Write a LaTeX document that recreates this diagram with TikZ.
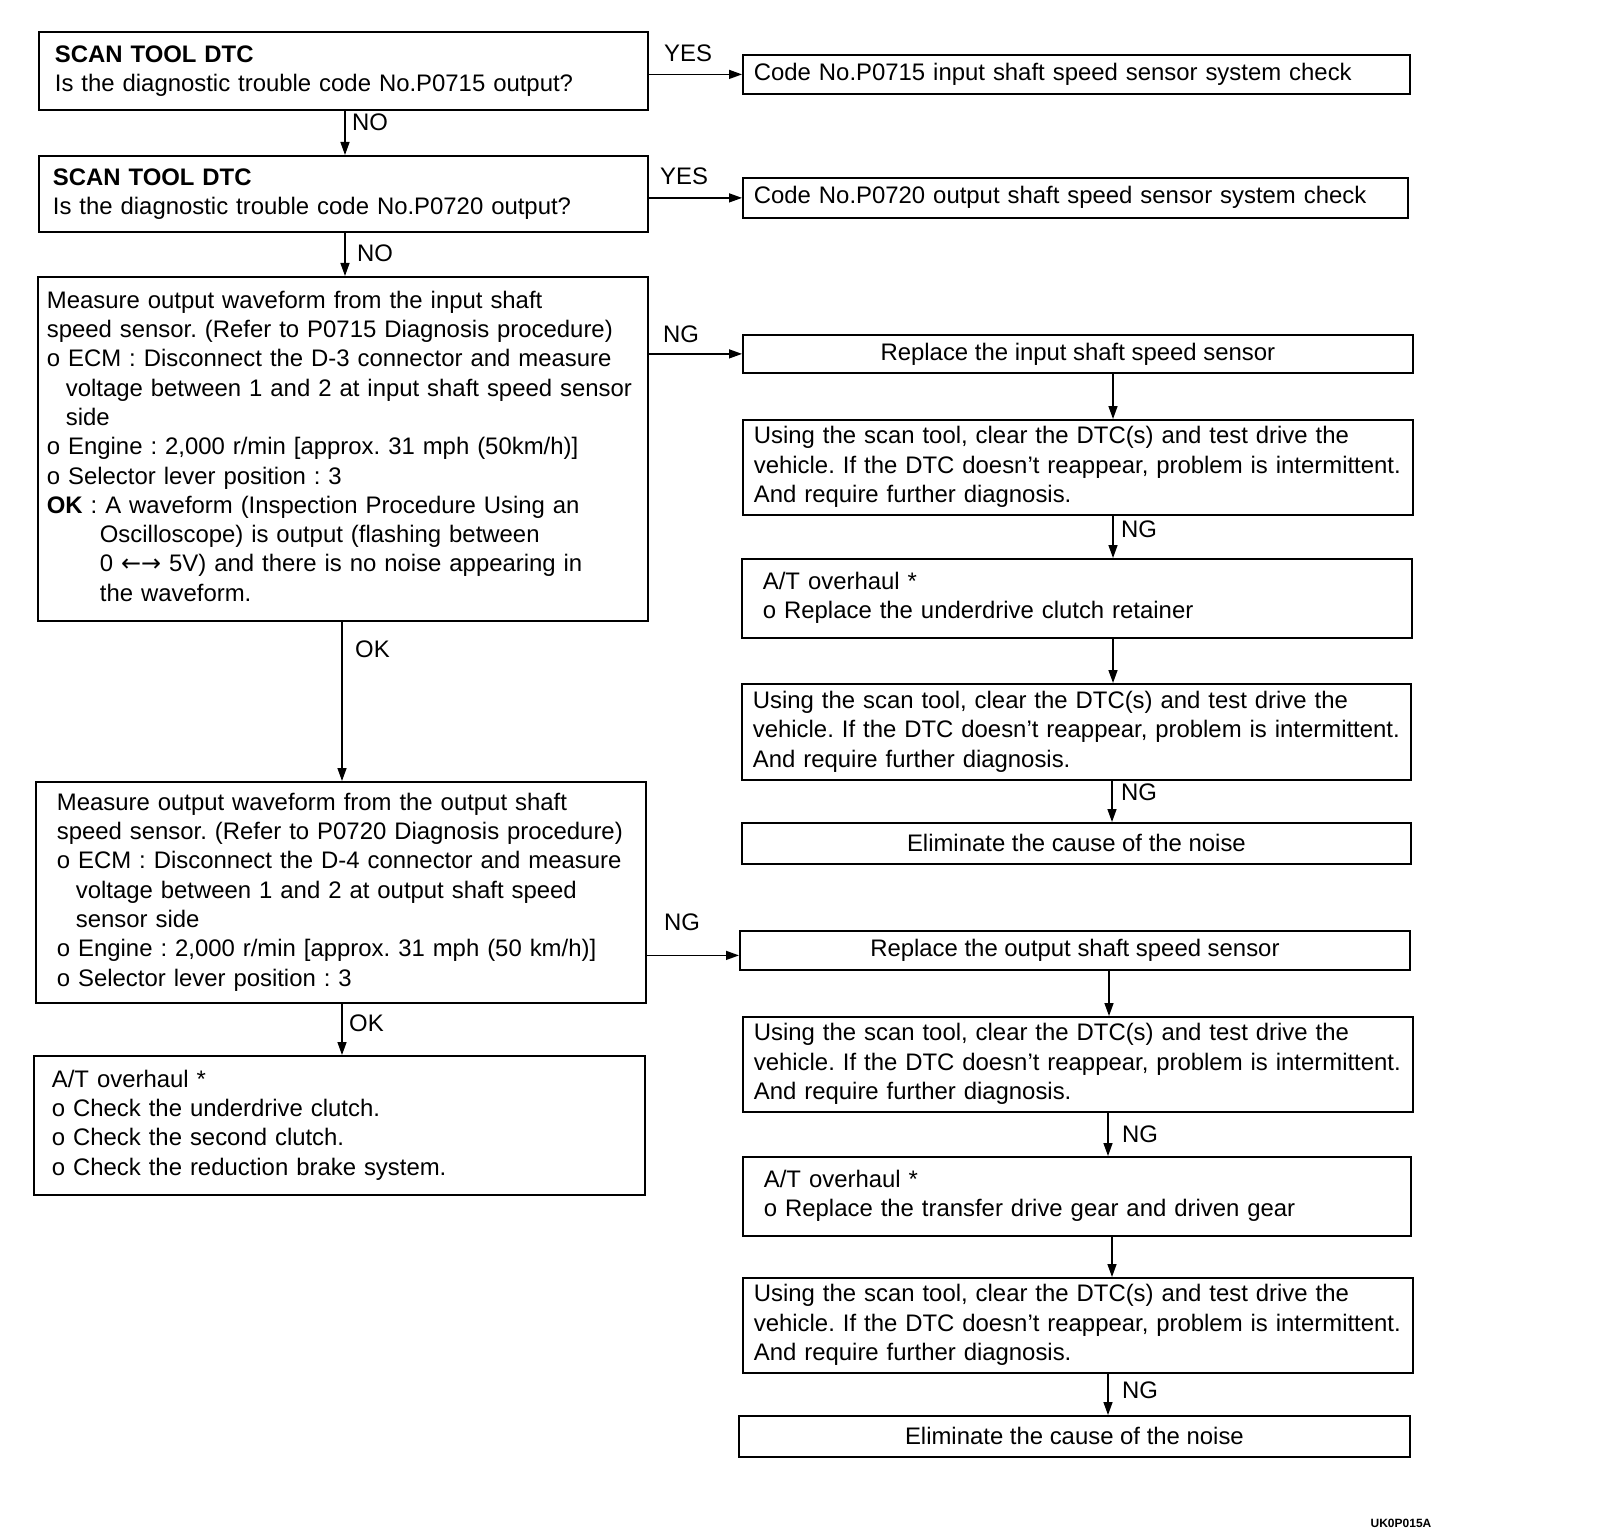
\documentclass[tikz,border=0pt]{standalone}
\usepackage{fontspec}
\setmainfont{Liberation Sans}
\newfontfamily\dejavu{DejaVu Sans}
\usetikzlibrary{arrows.meta}
\frenchspacing
\newcommand\tl[1]{\begin{tabular}{@{}l@{}}#1\end{tabular}}
\newcommand\bx[7]{%
  \pgfmathsetmacro\bw{#4-#2-2*#6}%
  \pgfmathsetmacro\bh{#5-#3}%
  \node[box, inner xsep=#6pt, text width=\bw pt, minimum height=\bh pt] (#1) at (#2,#3) {#7};}
\newcommand\cbx[6]{%
  \pgfmathsetmacro\bw{#4-#2}%
  \pgfmathsetmacro\bh{#5-#3}%
  \node[cbox, minimum width=\bw pt, minimum height=\bh pt] (#1) at (#2,#3) {#6};}
\tikzset{
  txtfont/.style={font=\fontsize{23.9}{29.3}\selectfont},
  box/.style={draw, line width=1.8pt, anchor=north west, align=left, inner ysep=0pt, txtfont},
  cbox/.style={draw, line width=1.8pt, anchor=north west, align=center, inner sep=0pt, txtfont},
  lbl/.style={anchor=west, inner sep=0pt, txtfont},
  arr/.style={line width=1.4pt, -{Triangle[length=13pt,width=9pt]}},
  ln/.style={line width=1.4pt}
}
\begin{document}
\begin{tikzpicture}[x=1pt,y=-1pt]
\useasboundingbox (0,0) rectangle (1600,1530);
% left column
\bx{b1}{38}{31}{647}{109}{16}{\tl{\textbf{SCAN TOOL DTC}\\Is the diagnostic trouble code No.P0715 output?}}
\bx{b2}{38}{155}{647}{231}{14}{\tl{\textbf{SCAN TOOL DTC}\\Is the diagnostic trouble code No.P0720 output?}}
\bx{b3}{37}{276}{647}{620}{9}{\tl{Measure output waveform from the input shaft\\
speed sensor. (Refer to P0715 Diagnosis procedure)\\
o ECM : Disconnect the D-3 connector and measure\\
\hspace*{19pt}voltage between 1 and 2 at input shaft speed sensor\\
\hspace*{19pt}side\\
o Engine : 2,000 r/min [approx. 31 mph (50km/h)]\\
o Selector lever position : 3\\
\textbf{OK} : A waveform (Inspection Procedure Using an\\
\hspace*{53pt}Oscilloscope) is output (flashing between\\
\hspace*{53pt}0 {\dejavu ←→} 5V) and there is no noise appearing in\\
\hspace*{53pt}the waveform.}}
\bx{b4}{35}{781}{645}{1002}{21}{\tl{Measure output waveform from the output shaft\\
speed sensor. (Refer to P0720 Diagnosis procedure)\\
o ECM : Disconnect the D-4 connector and measure\\
\hspace*{19pt}voltage between 1 and 2 at output shaft speed\\
\hspace*{19pt}sensor side\\
o Engine : 2,000 r/min [approx. 31 mph (50 km/h)]\\
o Selector lever position : 3}}
\bx{b5}{33}{1055}{644}{1194}{18}{\tl{A/T overhaul *\\
o Check the underdrive clutch.\\
o Check the second clutch.\\
o Check the reduction brake system.}}
% right column
\bx{r1}{742}{54}{1409}{93}{11}{\tl{Code No.P0715 input shaft speed sensor system check}}
\bx{r2}{742}{177}{1407}{217}{11}{\tl{Code No.P0720 output shaft speed sensor system check}}
\cbx{r3}{742}{334}{1412}{372}{Replace the input shaft speed sensor}
\bx{r4}{742}{419}{1412}{514}{11}{\tl{Using the scan tool, clear the DTC(s) and test drive the\\
vehicle. If the DTC doesn't reappear, problem is intermittent.\\
And require further diagnosis.}}
\bx{r5}{741}{558}{1411}{637}{21}{\tl{A/T overhaul *\\o Replace the underdrive clutch retainer}}
\bx{r6}{741}{683}{1410}{779}{11}{\tl{Using the scan tool, clear the DTC(s) and test drive the\\
vehicle. If the DTC doesn't reappear, problem is intermittent.\\
And require further diagnosis.}}
\cbx{r7}{741}{822}{1410}{863}{Eliminate the cause of the noise}
\cbx{r8}{739}{930}{1409}{969}{Replace the output shaft speed sensor}
\bx{r9}{742}{1016}{1412}{1111}{11}{\tl{Using the scan tool, clear the DTC(s) and test drive the\\
vehicle. If the DTC doesn't reappear, problem is intermittent.\\
And require further diagnosis.}}
\bx{r10}{742}{1156}{1410}{1235}{21}{\tl{A/T overhaul *\\o Replace the transfer drive gear and driven gear}}
\bx{r11}{742}{1277}{1412}{1372}{11}{\tl{Using the scan tool, clear the DTC(s) and test drive the\\
vehicle. If the DTC doesn't reappear, problem is intermittent.\\
And require further diagnosis.}}
\cbx{r12}{738}{1415}{1409}{1456}{Eliminate the cause of the noise}
% column x coordinates
\coordinate (xa) at (345,0);
\coordinate (xb) at (342,0);
\coordinate (xc) at (1113,0);
\coordinate (xd) at (1112,0);
\coordinate (xe) at (1109,0);
\coordinate (xf) at (1108,0);
% vertical connectors
\draw[arr] (b1.south -| xa) -- (b2.north -| xa);
\draw[arr] (b2.south -| xa) -- (b3.north -| xa);
\draw[arr] (b3.south -| xb) -- (b4.north -| xb);
\draw[arr] (b4.south -| xb) -- (b5.north -| xb);
\draw[arr] (r3.south -| xc) -- (r4.north -| xc);
\draw[arr] (r4.south -| xc) -- (r5.north -| xc);
\draw[arr] (r5.south -| xc) -- (r6.north -| xc);
\draw[arr] (r6.south -| xd) -- (r7.north -| xd);
\draw[arr] (r8.south -| xe) -- (r9.north -| xe);
\draw[arr] (r9.south -| xf) -- (r10.north -| xf);
\draw[arr] (r10.south -| xd) -- (r11.north -| xd);
\draw[arr] (r11.south -| xf) -- (r12.north -| xf);
% horizontal connectors
\draw[arr] (r1.west -| b1.east) -- (r1.west);
\draw[arr] (r2.west -| b2.east) -- (r2.west);
\draw[arr] (r3.west -| b3.east) -- (r3.west);
\draw[arr] ([yshift=-5pt]r8.west -| b4.east) -- ([yshift=-5pt]r8.west);
% labels
\node[lbl] (l1) at (664,53) {YES};
\node[lbl] (l2) at (352,122) {NO};
\node[lbl] (l3) at (660,176) {YES};
\node[lbl] (l4) at (357,253) {NO};
\node[lbl] (l5) at (663,334) {NG};
\node[lbl] (l6) at (355,649) {OK};
\node[lbl] (l7) at (664,922) {NG};
\node[lbl] (l8) at (349,1023) {OK};
\node[lbl] (l9) at (1121,529) {NG};
\node[lbl] (l10) at (1121,792) {NG};
\node[lbl] (l11) at (1122,1134) {NG};
\node[lbl] (l12) at (1122,1390) {NG};
\node[anchor=south, inner sep=0pt, font=\fontsize{12}{14}\selectfont\bfseries] (code) at (1401,1528) {UK0P015A};
\end{tikzpicture}
\end{document}
